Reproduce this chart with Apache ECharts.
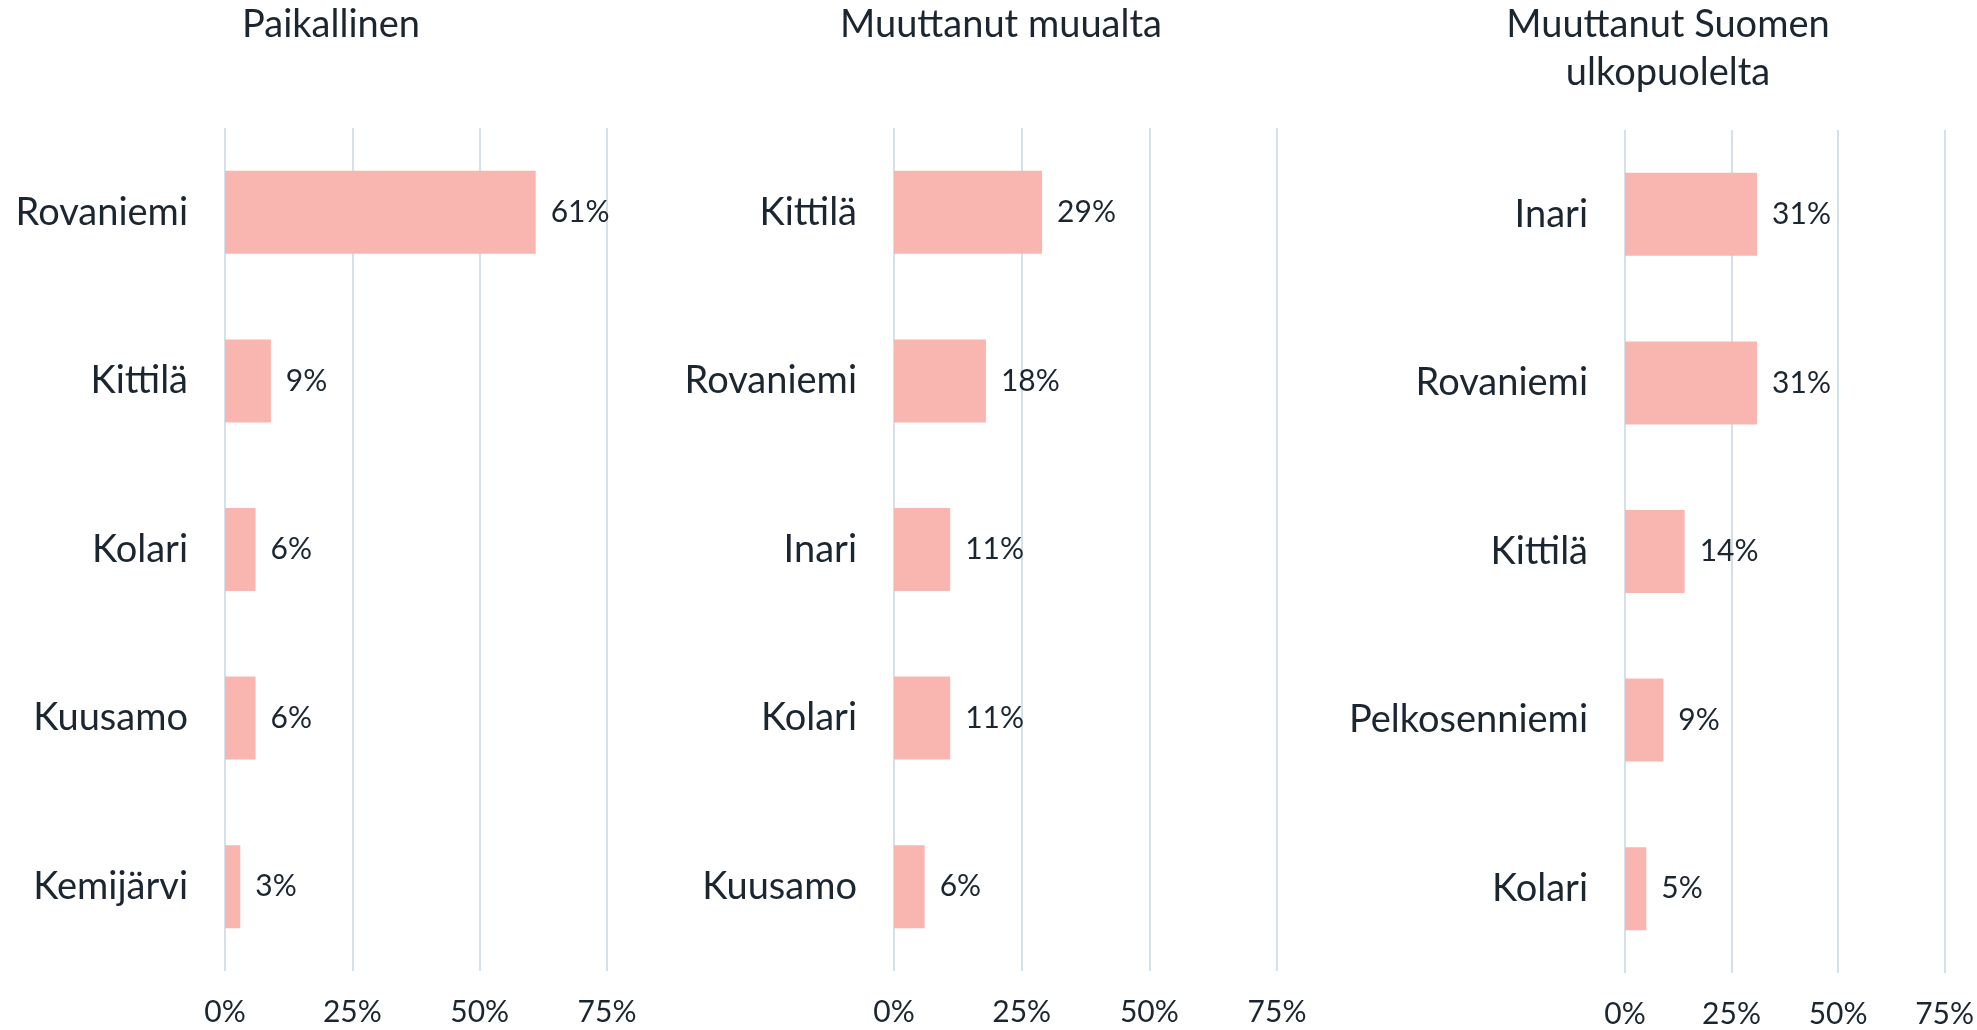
<!DOCTYPE html>
<html>
<head>
<meta charset="utf-8">
<script src="https://cdn.jsdelivr.net/npm/echarts@6/dist/echarts.min.js"></script>
<style>
    html, body { margin: 0; padding: 0; background: #ffffff; }
    #main { width: 1977px; height: 1030px; }
</style>
</head>
<body>
<div id="main"></div>
<script>
    // data (percent)
    var titles = ['Paikallinen', 'Muuttanut muualta', 'Muuttanut Suomen\nulkopuolelta'];

    var cats1 = ['Rovaniemi', 'Kittilä', 'Kolari', 'Kuusamo', 'Kemijärvi'];
    var vals1 = [61, 9, 6, 6, 3];

    var cats2 = ['Kittilä', 'Rovaniemi', 'Inari', 'Kolari', 'Kuusamo'];
    var vals2 = [29, 18, 11, 11, 6];

    var cats3 = ['Inari', 'Rovaniemi', 'Kittilä', 'Pelkosenniemi', 'Kolari'];
    var vals3 = [31, 31, 14, 9, 5];

    var ticks = ['0%', '25%', '50%', '75%'];

    var FONT = 'Lato';
    var TEXT = '#1c2631';
    var BAR = '#f9b5af';
    var GRIDLINE = '#d5e0ea';

    // layout of the three panels
    var panels = [
        {left: 225, width: 382, top: 128, title: 326},
        {left: 894, width: 383, top: 128, title: 996},
        {left: 1625, width: 322, top: 130, title: 1663}
    ];
    var cats = [cats1, cats2, cats3];
    var vals = [vals1, vals2, vals3];

    var option = {
        backgroundColor: '#ffffff',
        animation: false,
        title: [],
        grid: [],
        xAxis: [],
        yAxis: [],
        series: []
    };

    for (var i = 0; i < 3; ++i) {
        var p = panels[i];
        option.title.push({
            text: titles[i],
            left: p.title,
            top: -4,
            textAlign: 'center',
            textStyle: {
                fontFamily: FONT,
                fontSize: 38,
                fontWeight: 'normal',
                color: TEXT,
                lineHeight: 48
            }
        });
        option.grid.push({
            left: p.left,
            width: p.width,
            top: p.top,
            height: 843,
            containLabel: false
        });
        option.xAxis.push({
            type: 'value',
            gridIndex: i,
            min: 0,
            max: 75,
            interval: 25,
            axisLine: {show: false},
            axisTick: {show: false},
            splitLine: {show: true, lineStyle: {color: GRIDLINE, width: 2}},
            axisLabel: {
                margin: 26,
                fontFamily: FONT,
                fontSize: 30,
                color: TEXT,
                formatter: function (v) {
                    return ticks[Math.round(v / 25)];
                }
            }
        });
        option.yAxis.push({
            type: 'category',
            gridIndex: i,
            inverse: true,
            data: cats[i],
            axisLine: {show: false},
            axisTick: {show: false},
            axisLabel: {
                margin: 37,
                fontFamily: FONT,
                fontSize: 38,
                color: TEXT
            }
        });
        option.series.push({
            type: 'bar',
            xAxisIndex: i,
            yAxisIndex: i,
            data: vals[i],
            barWidth: 83,
            itemStyle: {color: BAR},
            label: {
                show: true,
                position: 'right',
                distance: 15,
                fontFamily: FONT,
                fontSize: 30,
                color: TEXT,
                formatter: '{c}%'
            }
        });
    }

    var myChart = echarts.init(document.getElementById('main'));
    myChart.setOption(option);
</script>
</body>
</html>
